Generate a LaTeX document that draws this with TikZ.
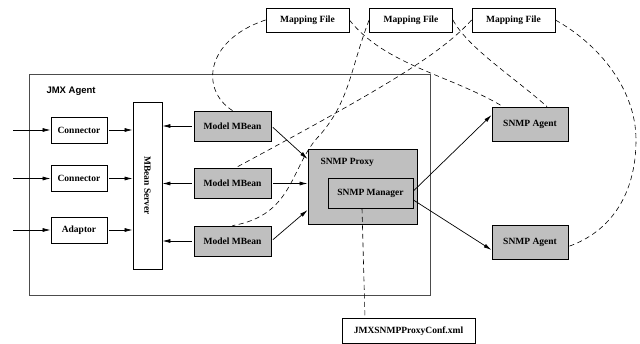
\documentclass[tikz,border=0pt]{standalone}
\usepackage{fontspec}
\setmainfont{Liberation Serif}
\setsansfont{Liberation Sans}
\usetikzlibrary{arrows.meta,positioning}

\begin{document}
\begin{tikzpicture}[x=1pt,y=-1pt,
  every node/.style={font=\bfseries\fontsize{9.5}{11}\selectfont},
  box/.style={draw,line width=0.8pt,inner sep=0pt},
  gbox/.style={box,fill=black!25},
  small/.style={box,minimum width=56pt,minimum height=26pt},
  mbean/.style={gbox,minimum width=77pt,minimum height=30pt},
  agent/.style={gbox,minimum width=76pt,minimum height=34pt},
  mapfile/.style={box,minimum width=83pt,minimum height=24pt},
  arr/.style={-{Latex[length=8pt,width=4pt]},line width=0.7pt,shorten <=2pt},
  link/.style={dash pattern=on 5pt off 3.5pt,line width=0.6pt}]
\useasboundingbox (0,0) rectangle (640,344);

% JMX agent frame
\draw[black!70,line width=0.8pt] (29,74) rectangle (430,295);
\node[anchor=west,font=\sffamily\bfseries\fontsize{9.5}{11}\selectfont] (jmxlbl) at (43,91) {JMX Agent};

% left column
\node[small] (conn1) at (79,130) {Connector};
\node[small] (conn2) at (79,178.5) {Connector};
\node[small] (adapt) at (79,230) {Adaptor};
\node[box,minimum width=29pt,minimum height=167pt] (srv) at (147.5,185.5) {\rotatebox{-90}{MBean Server}};
\coordinate (in1) at (13,130);
\coordinate (in2) at (13,178.5);
\coordinate (in3) at (13,230);

% model mbeans
\node[mbean] (mb1) at (232.5,126) {Model MBean};
\node[mbean] (mb2) at (232.5,183.5) {Model MBean};
\node[mbean] (mb3) at (232.5,241) {Model MBean};

% proxy
\node[gbox,minimum width=109pt,minimum height=75pt] (proxy) at (362.5,186.5) {};
\node[anchor=west] (proxylbl) at (317,162) {SNMP Proxy};
\node[gbox,minimum width=85pt,minimum height=30pt] (mgr) at (370.5,193) {SNMP Manager};

% agents and files
\node[agent] (ag1) at (530,124) {SNMP Agent};
\node[agent] (ag2) at (530,242.5) {SNMP Agent};
\node[mapfile] (mf1) at (307.5,20) {Mapping File};
\node[mapfile] (mf2) at (411,20) {Mapping File};
\node[mapfile] (mf3) at (513.5,20) {Mapping File};
\node[box,minimum width=133pt,minimum height=25pt] (conf) at (408.5,331) {JMXSNMPProxyConf.xml};

% arrows
\draw[arr,shorten <=0pt] (in1) -- (conn1);
\draw[arr,shorten <=0pt] (in2) -- (conn2);
\draw[arr,shorten <=0pt] (in3) -- (adapt);
\draw[arr] (conn1) -- (srv.west |- conn1);
\draw[arr] (conn2) -- (srv.west |- conn2);
\draw[arr] (adapt) -- (srv.west |- adapt);
\draw[arr] (mb1.west) -- (srv.east |- mb1.west);
\draw[arr] (mb2.west) -- (srv.east |- mb2.west);
\draw[arr] (mb3.west) -- (srv.east |- mb3.west);
\draw[arr] (mb1.east) -- ([yshift=27.5pt]proxy.west);
\draw[arr] (mb2.east) -- (proxy.west |- mb2.east);
\draw[arr] (mb3.east) -- ([yshift=-23.5pt]proxy.west);
\draw[arr,shorten <=0pt] ([yshift=2pt]mgr.east) -- ([yshift=9pt]ag1.west);
\draw[arr,shorten <=0pt] ([yshift=-7pt]mgr.east) -- ([yshift=-7.5pt]ag2.west);

% mapping links
\draw[link] (mf1.west) .. controls (205,40) and (200,90) .. (mb1.north);
\draw[link] (mf1.east) .. controls (385,65) and (450,75) .. ([xshift=-27pt]ag1.north);
\draw[link] (mf2.west) .. controls (350,70) and (350,100) .. (320,135)
  .. controls (290,165) and (295,215) .. (mb3.north);
\draw[link] (mf2.east) .. controls (468,48) and (515,78) .. ([xshift=17pt]ag1.north);
\draw[link] (mf3.west) .. controls (440,55) and (380,90) .. ([xshift=2.5pt]mb2.north);
\draw[link] (mf3.east) .. controls (600,45) and (636,90) .. (636,140)
  .. controls (636,195) and (610,232) .. ([yshift=-4pt]ag2.east);
\draw[link] ([xshift=-8.5pt]mgr.south) -- ([xshift=-43.5pt]conf.north);
\end{tikzpicture}
\end{document}
